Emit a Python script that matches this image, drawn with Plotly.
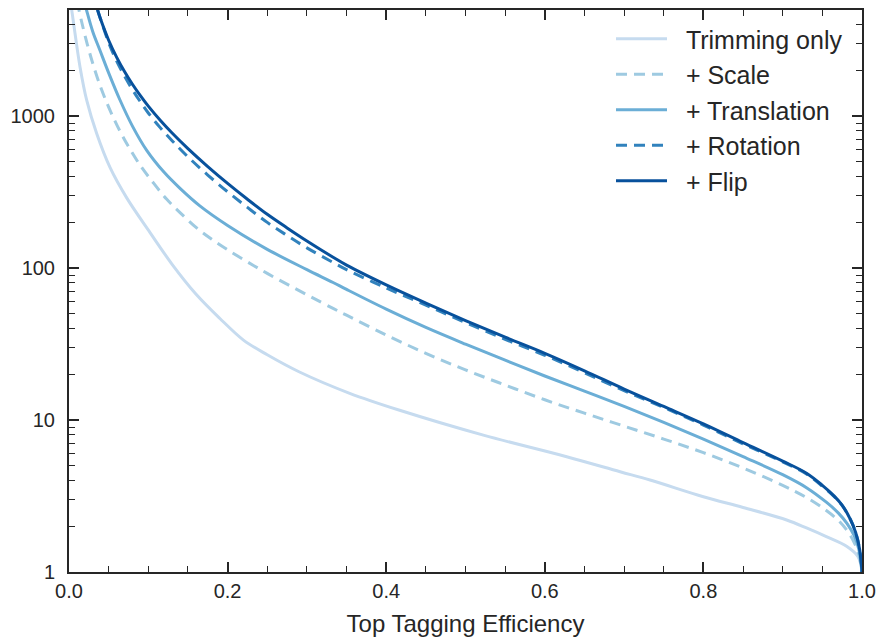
import plotly.graph_objects as go

# ---- data ----
trim_eff = [0.001, 0.0034, 0.0076, 0.0139, 0.0223, 0.0349, 0.0517, 0.0728, 0.102, 0.13, 0.16, 0.19,
            0.22, 0.25, 0.29, 0.354, 0.417, 0.5225, 0.6276, 0.695, 0.7327, 0.8, 0.85, 0.905, 0.93,
            0.955, 0.981, 0.995, 1.0]
trim_rej = [6300, 5012, 3500, 2109, 1274, 769, 460, 290, 172, 106, 67.6, 46.8,
            33.6, 26.9, 20.8, 15.0, 11.6, 7.96, 5.74, 4.57, 4.03, 3.13, 2.66, 2.2, 1.95,
            1.71, 1.47, 1.26, 1.0]

scale_eff = [0.01, 0.016, 0.023, 0.031, 0.04, 0.05, 0.062, 0.075, 0.09, 0.105, 0.123, 0.14, 0.161,
             0.18, 0.2, 0.225, 0.25, 0.3, 0.333, 0.35, 0.4, 0.45, 0.5, 0.55, 0.6, 0.65, 0.7, 0.75,
             0.8, 0.85, 0.9, 0.93, 0.955, 0.97, 0.981, 0.99, 0.996, 1.0]
scale_rej = [5750, 4170, 2985, 2138, 1549, 1148, 841, 631, 473, 372, 285, 232, 184,
             155, 132, 110, 92.3, 66.8, 54.3, 49.0, 36.3, 27.5, 21.4, 17.0, 13.6, 11.1, 9.12, 7.50,
             6.10, 4.84, 3.72, 3.09, 2.54, 2.19, 1.88, 1.57, 1.30, 1.0]

trans_eff = [0.015, 0.022, 0.03, 0.039, 0.05, 0.064, 0.08, 0.098, 0.12, 0.14, 0.165, 0.2, 0.25, 0.3,
             0.333, 0.35, 0.4, 0.45, 0.5, 0.55, 0.6, 0.65, 0.7, 0.75, 0.8, 0.85, 0.9, 0.93, 0.955,
             0.97, 0.981, 0.99, 0.996, 1.0]
trans_rej = [6900, 5012, 3597, 2716, 1928, 1288, 861, 596, 427, 335, 257, 191, 133, 97.7,
             80.4, 72.4, 53.7, 40.7, 31.6, 24.8, 19.5, 15.5, 12.3, 9.66, 7.50, 5.75, 4.37, 3.59, 2.88,
             2.45, 2.09, 1.74, 1.41, 1.0]

rf_eff = [0.03, 0.036, 0.04, 0.05, 0.06, 0.07, 0.08, 0.09, 0.1, 0.115, 0.13, 0.15, 0.175, 0.2,
          0.225, 0.25, 0.275, 0.3, 0.333, 0.35, 0.4, 0.45, 0.5, 0.55, 0.6, 0.65, 0.7, 0.75, 0.8,
          0.85, 0.9, 0.93, 0.95, 0.965, 0.975, 0.985, 0.992, 0.997, 1.0]
flip_rej = [6500, 5012, 4325, 3162, 2450, 1968, 1622, 1365, 1164, 940, 775, 612, 466, 361,
            284, 226, 184, 151, 118, 104.7, 77.6, 58.9, 45.2, 35.1, 27.5, 21.1, 16.0, 12.3, 9.44,
            7.11, 5.37, 4.47, 3.72, 3.16, 2.75, 2.24, 1.82, 1.41, 1.0]
rot_rej = [6500, 5012, 4325, 3055, 2312, 1837, 1496, 1245, 1050, 841, 690, 540, 410, 318,
           251, 200, 164, 136, 109, 97.7, 74.1, 57.1, 43.9, 34.0, 26.7, 20.5, 15.6, 12.1, 9.27,
           6.98, 5.31, 4.42, 3.67, 3.13, 2.74, 2.24, 1.82, 1.41, 1.0]

names = ["Trimming only", "+ Scale", "+ Translation", "+ Rotation", "+ Flip"]
colors = ["#c6dbef", "#9ecae1", "#6baed6", "#3182bd", "#08519c"]
dashes = ["solid", "11px,7px", "solid", "11px,7px", "solid"]
smooth = [1.0, 1.0, 1.0, 1.0, 1.0]

series = [(trim_eff, trim_rej), (scale_eff, scale_rej), (trans_eff, trans_rej),
          (rf_eff, rot_rej), (rf_eff, flip_rej)]

FONT = "Liberation Sans, Arial, sans-serif"
INK = "#262626"
PAD = "\u00a0\u00a0"  # gap between legend sample and its label

fig = go.Figure()
for i, ((xs, ys), nm) in enumerate(zip(series, names)):
    fig.add_trace(go.Scatter(
        x=xs, y=ys, name=PAD + nm, mode="lines",
        line=dict(color=colors[i], width=3, dash=dashes[i], shape="spline", smoothing=smooth[i]),
        legendgroup=f"g{i}",
    ))

L, R, T, B = 69, 21, 10, 69
W, H = 883, 641
pw, ph = W - L - R, H - T - B

fig.update_layout(
    width=W, height=H,
    margin=dict(l=L, r=R, t=T, b=B, autoexpand=False),
    paper_bgcolor="white", plot_bgcolor="white",
    font=dict(family=FONT, size=20, color=INK),
    showlegend=True,
    legend=dict(
        x=(611 - L) / pw, xanchor="left",
        y=(572 - 16) / ph, yanchor="top",
        bgcolor="rgba(0,0,0,0)", borderwidth=0,
        font=dict(family=FONT, size=25, color=INK),
        tracegroupgap=0, itemwidth=51,
    ),
    annotations=[dict(
        text="Background Rejection", textangle=-90,
        xref="paper", yref="paper",
        x=(-20 - L) / pw, y=(572 - 293) / ph,
        xanchor="center", yanchor="middle", showarrow=False,
        font=dict(family=FONT, size=24, color=INK),
    )],
)

fig.update_xaxes(
    range=[0, 1], dtick=0.2, tickformat=".1f", automargin=False,
    showgrid=False, zeroline=False,
    showline=True, linecolor=INK, linewidth=2, mirror="allticks",
    ticks="inside", ticklen=10, tickwidth=1.5, tickcolor=INK,
    ticklabelstandoff=0,
    minor=dict(dtick=0.05, ticks="inside", ticklen=6, tickwidth=1, tickcolor=INK, showgrid=False),
    title=dict(text="Top Tagging Efficiency", font=dict(family=FONT, size=24, color=INK), standoff=14),
)
fig.update_yaxes(
    type="log", range=[0, 3.699], automargin=False,
    tickvals=[1, 10, 100, 1000], ticktext=["1", "10", "100", "1000"],
    showgrid=False, zeroline=False,
    showline=True, linecolor=INK, linewidth=2, mirror="allticks",
    ticks="inside", ticklen=10, tickwidth=1.5, tickcolor=INK,
    ticklabelstandoff=8,
    minor=dict(tickvals=[2, 3, 4, 5, 6, 7, 8, 9, 20, 30, 40, 50, 60, 70, 80, 90,
                         200, 300, 400, 500, 600, 700, 800, 900, 2000, 3000, 4000, 5000],
               ticks="inside", ticklen=6, tickwidth=1, tickcolor=INK, showgrid=False),
)

fig.write_html("out.html")
